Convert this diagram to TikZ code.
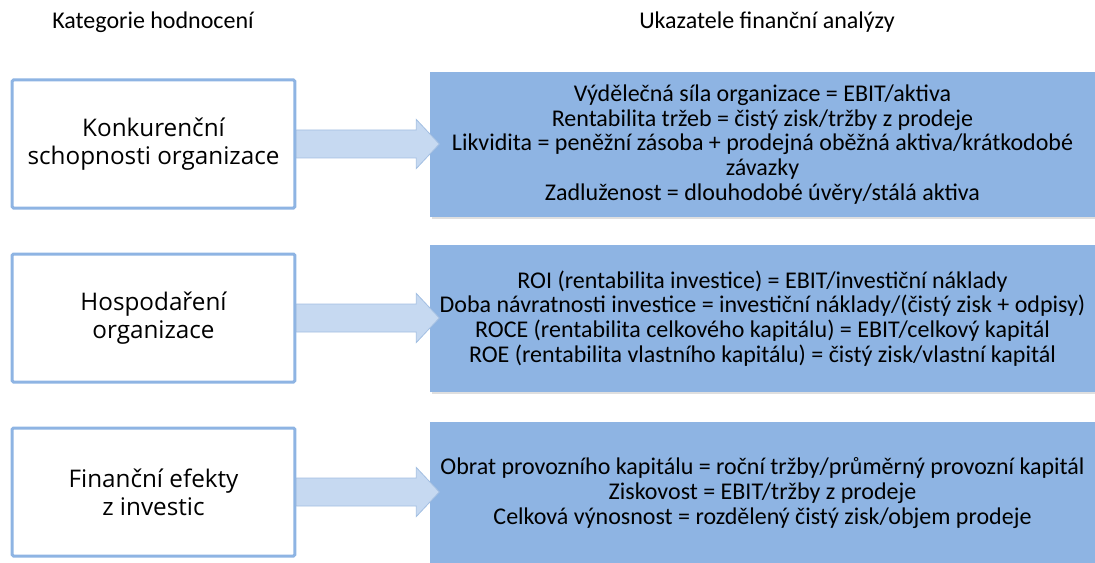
\documentclass[tikz,border=0pt]{standalone}
\usepackage{fontspec}
\setmainfont{Carlito}
\newfontfamily\catfont{Open Sans}
\usetikzlibrary{positioning,shadows}
\definecolor{boxBlue}{HTML}{8EB4E3}
\definecolor{arrowFill}{HTML}{C6D9F1}
\definecolor{arrowLine}{HTML}{A3BFE2}

\tikzset{
  category/.style={draw=boxBlue, line width=2.25pt, rounded corners=1pt, fill=white,
    minimum width=212pt, minimum height=96pt, align=center,
    font=\catfont\fontsize{18.2}{21}\selectfont},
  indicators/.style={fill=boxBlue, minimum width=498.75pt, align=center,
    font=\fontsize{18}{18.6}\selectfont,
    drop shadow={opacity=0.25, shadow xshift=1.2pt, shadow yshift=-1.5pt}},
  heading/.style={font=\fontsize{18}{20}\selectfont},
  bigarrow/.style={fill=arrowFill, draw=arrowLine, line width=0.6pt, line join=miter}
}

\begin{document}
\begin{tikzpicture}[x=0.75pt,y=-0.75pt]
\useasboundingbox (0,0) rectangle (1095,563);

% column headings
\node[heading] (hcat) at (153,22) {Kategorie hodnocení};
\node[heading] (hind) at (767,22) {Ukazatele finanční analýzy};

% categories
\node[category] (cat1) at (153.5,144) {Konkurenční\\schopnosti organizace};
\node[category] (cat2) at (153.5,318) {Hospodaření\\organizace};
\node[category] (cat3) at (153.5,492) {Finanční efekty\\z investic};

% indicators
\node[indicators, minimum height=108.75pt] (ind1) at (762.5,144.5) {Výdělečná síla organizace = EBIT/aktiva\\
  Rentabilita tržeb = čistý zisk/tržby z prodeje\\
  Likvidita = peněžní zásoba + prodejná oběžná aktiva/krátkodobé\\
  závazky\\
  Zadluženost = dlouhodobé úvěry/stálá aktiva};
\node[indicators, minimum height=110pt] (ind2) at (762.5,318.5) {ROI (rentabilita investice) = EBIT/investiční náklady\\
  Doba návratnosti investice = investiční náklady/(čistý zisk + odpisy)\\
  ROCE (rentabilita celkového kapitálu) = EBIT/celkový kapitál\\
  ROE (rentabilita vlastního kapitálu) = čistý zisk/vlastní kapitál};
\node[indicators, minimum height=106pt] (ind3) at (762.5,493) {Obrat provozního kapitálu = roční tržby/průměrný provozní kapitál\\
  Ziskovost = EBIT/tržby z prodeje\\
  Celková výnosnost = rozdělený čistý zisk/objem prodeje};

% block arrows
\foreach \i in {1,2,3}
  \draw[bigarrow] (cat\i.east) ++(0,-14) -- ++(120,0) -- ++(0,-10.5) -- ++(23,24.5)
    -- ++(-23,24.5) -- ++(0,-10.5) -- ++(-120,0) -- cycle;
\end{tikzpicture}
\end{document}
